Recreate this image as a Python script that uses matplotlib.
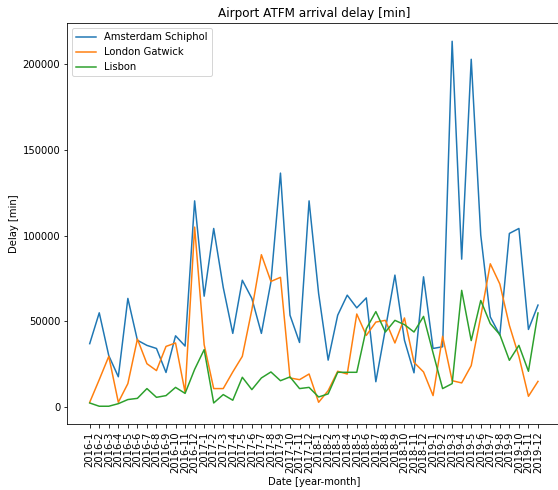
import numpy as np
import matplotlib
matplotlib.use("Agg")
import matplotlib.pyplot as plt

months = [f"{y}-{m}" for y in range(2016, 2020) for m in range(1, 13)]

amsterdam = [37000, 55000, 30000, 17700, 63400, 39000, 36000, 34200, 20200, 41600, 35600, 120300,
             64700, 104200, 69800, 43000, 74000, 63400, 43000, 73000, 136500, 53600, 37700, 120300,
             66300, 27400, 53600, 65300, 57900, 63700, 14800, 45500, 77000, 39000, 20000, 76000,
             34200, 35200, 213400, 86300, 202900, 100300, 52600, 42000, 101300, 104200, 45300, 59500]
gatwick = [2800, 16000, 29600, 2800, 13700, 39700, 25300, 21300, 35400, 37400, 8600, 105000,
           36400, 10800, 10800, 20500, 29600, 56800, 88900, 73300, 75700, 17000, 16000, 19300,
           2800, 9600, 20900, 19300, 54300, 41800, 49600, 50600, 37400, 52000, 26100, 20500,
           6700, 41300, 15400, 14100, 24200, 52900, 83600, 71800, 47700, 29600, 6300, 15000]
lisbon = [2400, 500, 500, 2000, 4400, 5100, 10800, 5700, 6700, 11500, 8000, 22000,
          33500, 2400, 7300, 4000, 17400, 10200, 17000, 20500, 15400, 17600, 10800, 11500,
          5900, 7700, 20300, 20300, 20300, 45700, 55700, 43800, 50600, 48100, 43800, 52900,
          31600, 10800, 13700, 68100, 38800, 62200, 48700, 42300, 27300, 36000, 20900, 54900]

# reference looks like a bigger figure shrunk down, so render at a low dpi
dpi = 72
fig = plt.figure(figsize=(558 / dpi, 490 / dpi), dpi=dpi)
ax = fig.add_axes([0.1206, 0.1337, 0.8837, 0.8193])
ax.plot(months, amsterdam, label="Amsterdam Schiphol")
ax.plot(months, gatwick, label="London Gatwick")
ax.plot(months, lisbon, label="Lisbon")
ax.set_title("Airport ATFM arrival delay [min]")
ax.set_xlabel("Date [year-month]")
ax.set_ylabel("Delay [min]")
ax.tick_params(axis="x", rotation=90)
ax.legend(loc="upper left")
fig.savefig("out.png", dpi=dpi)
